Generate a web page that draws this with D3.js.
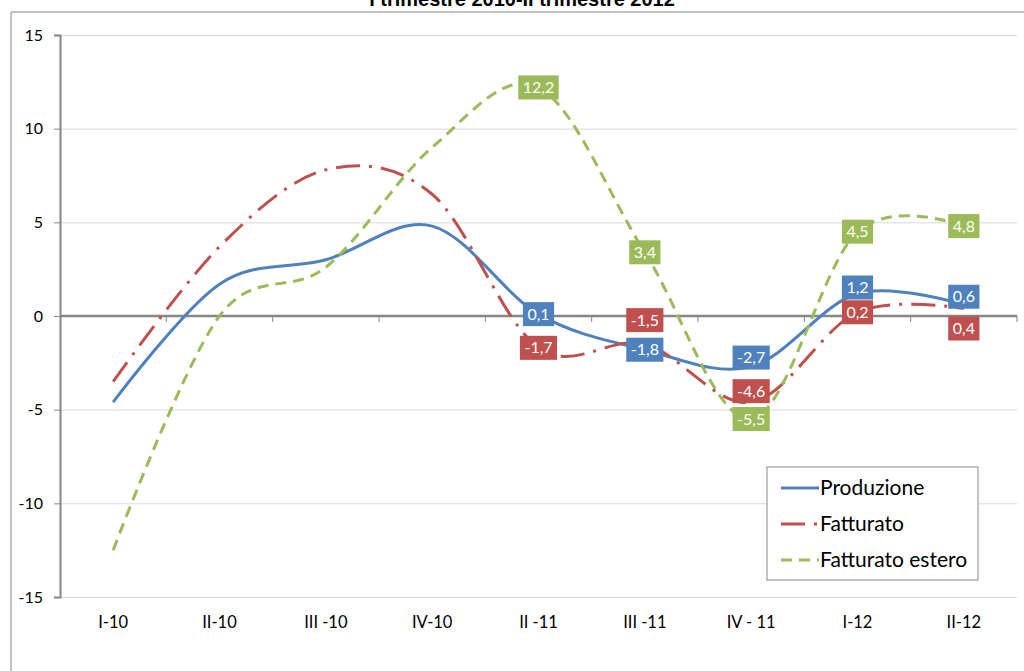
<html lang="it">
<head>
  <meta charset="UTF-8">
  <title>I trimestre 2010-II trimestre 2012</title>
  <script src="https://d3js.org/d3.v7.min.js"></script>
</head>
<style>
  body { margin: 0; background: #fff; }
  .gridlines line { stroke: #d9d9d9; }
  .gridlines .domain { stroke: none; }
  text { font-family: Lato, "Liberation Sans", sans-serif; }
</style>
<body>
  <svg class="chart" width="1024" height="671"></svg>
  <script>
    // dati
    const categories = ['I-10', 'II-10', 'III -10', 'IV-10', 'II -11', 'III -11', 'IV - 11', 'I-12', 'II-12'];
    const produzione = [-4.6, 1.7, 3.0, 4.8, 0.1, -1.8, -2.7, 1.2, 0.6];
    const fatturato = [-3.5, 3.7, 7.8, 6.5, -1.7, -1.5, -4.6, 0.2, 0.4];
    const fatturatoEstero = [-12.5, 0.0, 2.6, 9.0, 12.2, 3.4, -5.5, 4.5, 4.8];
    const yTicks = [-15, -10, -5, 0, 5, 10, 15];
    const firstLabelled = 4; // etichette da II-11 in poi

    const series = [
      { name: 'Produzione', values: produzione, color: '#4f81bd', dash: null,
        nudge: { 6: -9, 7: -6, 8: -8 } },
      { name: 'Fatturato', values: fatturato, color: '#c0504d', dash: '24,9,3,9',
        nudge: { 5: -24, 6: -11, 8: 20 } },
      { name: 'Fatturato estero', values: fatturatoEstero, color: '#9bbb59', dash: '11,7',
        nudge: {} }
    ];

    const svg = d3.select('svg.chart');
    const plot = { left: 60, right: 1017, top: 35, bottom: 597 };

    const x = d3.scaleBand().domain(categories).range([plot.left, plot.right]);
    const cx = c => x(c) + x.bandwidth() / 2;
    const y = d3.scaleLinear().domain([-15, 15]).range([plot.bottom, plot.top]);

    // cornice e titolo (il titolo è tagliato in alto come nell'originale)
    svg.append('path')
      .attr('d', 'M11,671 V12 H1024')
      .attr('fill', 'none').attr('stroke', '#888').attr('stroke-width', 1);
    svg.append('text')
      .attr('x', 522).attr('y', 6)
      .attr('text-anchor', 'middle')
      .style('font-family', '"Liberation Sans", Arial, sans-serif')
      .style('font-weight', 'bold').style('font-size', '20px')
      .text('I trimestre 2010-II trimestre 2012');

    // griglia
    svg.append('g')
      .attr('class', 'gridlines')
      .attr('transform', `translate(${plot.left},0)`)
      .call(d3.axisLeft(y).tickValues(yTicks).tickSize(-(plot.right - plot.left)).tickFormat(''));

    // asse y
    const yAxis = svg.append('g')
      .attr('transform', `translate(${plot.left},0)`)
      .call(d3.axisLeft(y).tickValues(yTicks).tickSize(6).tickPadding(11).tickFormat(d => String(d)));
    yAxis.select('.domain').attr('stroke', '#868686').attr('stroke-width', 2);
    yAxis.selectAll('.tick line').attr('stroke', '#868686');
    yAxis.selectAll('.tick text').style('font-size', '16px').attr('fill', '#000');

    // asse x a quota zero, tacche ai confini delle categorie
    const xAxis = svg.append('g');
    xAxis.append('line')
      .attr('x1', plot.left).attr('x2', plot.right)
      .attr('y1', y(0)).attr('y2', y(0))
      .attr('stroke', '#868686').attr('stroke-width', 2.5);
    d3.range(1, categories.length + 1).forEach(i => {
      const bx = plot.left + i * x.step();
      xAxis.append('line')
        .attr('x1', bx).attr('x2', bx)
        .attr('y1', y(0)).attr('y2', y(0) + 6)
        .attr('stroke', '#868686');
    });
    svg.append('g').selectAll('text')
      .data(categories)
      .join('text')
      .attr('x', d => cx(d))
      .attr('y', 628)
      .attr('text-anchor', 'middle')
      .style('font-size', '16.5px')
      .text(d => d);

    // linee smussate
    const line = d3.line()
      .x((d, i) => cx(categories[i]))
      .y(d => y(d))
      .curve(d3.curveCardinal.tension(0));

    series.forEach(s => {
      svg.append('path')
        .datum(s.values)
        .attr('d', line)
        .attr('fill', 'none')
        .attr('stroke', s.color)
        .attr('stroke-width', 3)
        .attr('stroke-dasharray', s.dash);
    });

    // etichette dati
    const fmt = v => v.toFixed(1).replace('.', ',');
    series.forEach(s => {
      s.values.forEach((v, i) => {
        if (i < firstLabelled) return;
        const g = svg.append('g')
          .attr('transform', `translate(${cx(categories[i])},${y(v) + (s.nudge[i] || 0)})`);
        const t = g.append('text')
          .attr('text-anchor', 'middle')
          .attr('dy', '0.35em')
          .attr('fill', '#fff')
          .style('font-size', '16px')
          .text(fmt(v));
        const w = t.node().getBBox().width + 9;
        g.insert('rect', 'text')
          .attr('x', -w / 2).attr('y', -12)
          .attr('width', w).attr('height', 24)
          .attr('fill', s.color);
      });
    });

    // legenda
    const legend = svg.append('g').attr('transform', 'translate(767,467)');
    legend.append('rect')
      .attr('width', 211).attr('height', 113)
      .attr('fill', '#fff').attr('stroke', '#888');
    series.forEach((s, i) => {
      const ly = 21 + i * 36;
      legend.append('line')
        .attr('x1', 14).attr('x2', 52)
        .attr('y1', ly).attr('y2', ly)
        .attr('stroke', s.color).attr('stroke-width', 3)
        .attr('stroke-dasharray', s.dash);
      legend.append('text')
        .attr('x', 53).attr('y', ly)
        .attr('dy', '0.35em')
        .style('font-size', '21px')
        .text(s.name);
    });
  </script>
</body>
</html>
